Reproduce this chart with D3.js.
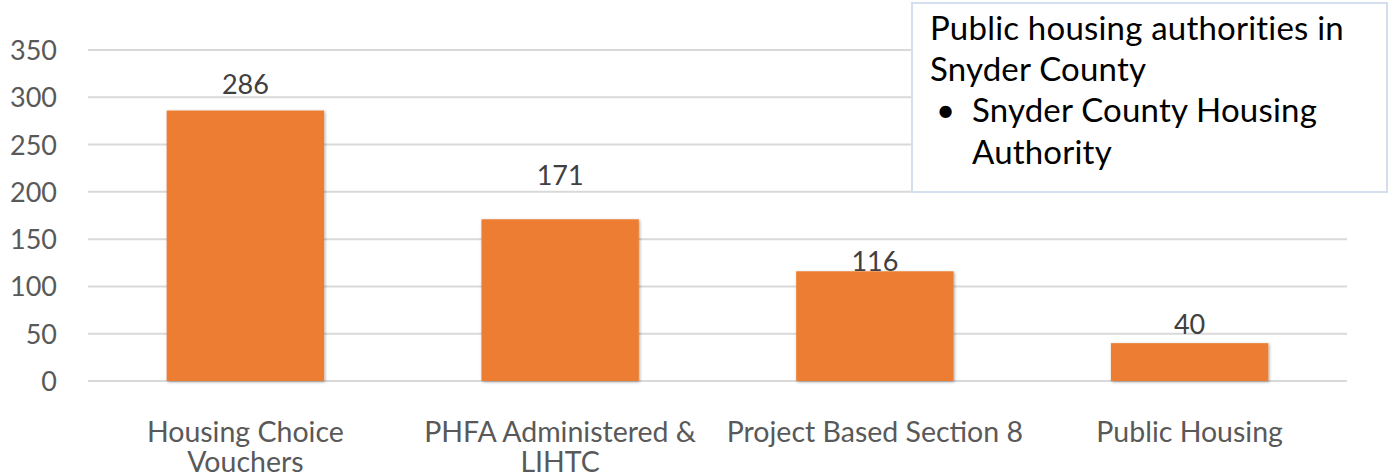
<!DOCTYPE html>
<html>
<head>
<meta charset="utf-8">
<script src="https://cdn.jsdelivr.net/npm/d3@7"></script>
<style>
    body { margin: 0; background: #fff; }
    svg { display: block; }
</style>
</head>
<body>
<svg id="chart" width="1392" height="476"></svg>
<script>
var categories = [
    ["Housing Choice", "Vouchers"],
    ["PHFA Administered &", "LIHTC"],
    ["Project Based Section 8"],
    ["Public Housing"]
];
var values = [286, 171, 116, 40];
var yTicks = [0, 50, 100, 150, 200, 250, 300, 350];
var noteTitle = ["Public housing authorities in", "Snyder County"];
var noteItems = [["Snyder County Housing", "Authority"]];

// label gap above each bar (px), as placed in the original
var labelGap = [17, 34, 0, 9];

var svg = d3.select("svg#chart"),
    font = "Lato, 'Open Sans', sans-serif",
    margin = { left: 88, right: 1347, top: 50, bottom: 381 },
    g = svg.append("g");

var x_scale = d3.scaleBand()
    .domain(d3.range(values.length))
    .range([margin.left, margin.right])
    .paddingInner(0.5)
    .paddingOuter(0.25);

var y_scale = d3.scaleLinear()
    .domain([0, 350])
    .range([margin.bottom, margin.top]);

var defs = svg.append("defs");
defs.append("filter")
    .attr("id", "shadow")
    .attr("x", "-10%").attr("y", "-10%")
    .attr("width", "120%").attr("height", "120%")
    .append("feDropShadow")
    .attr("dx", 1).attr("dy", 1)
    .attr("stdDeviation", 1.5)
    .attr("flood-color", "#000")
    .attr("flood-opacity", 0.35);

// gridlines
g.append("g")
    .selectAll("line")
    .data(yTicks)
    .enter()
    .append("line")
    .attr("x1", margin.left)
    .attr("x2", margin.right)
    .attr("y1", d => y_scale(d))
    .attr("y2", d => y_scale(d))
    .style("stroke", "#d9d9d9")
    .style("stroke-width", 2);

// y axis labels
var y_axis = d3.axisLeft(y_scale)
    .tickValues(yTicks)
    .tickSize(0)
    .tickPadding(0);

g.append("g")
    .attr("transform", "translate(57, 0)")
    .call(y_axis)
    .call(a => a.select(".domain").remove())
    .selectAll("text")
    .attr("dy", "0.35em")
    .style("font-family", font)
    .style("font-size", "27px")
    .style("fill", "#595959");

// bars
g.append("g")
    .selectAll("rect")
    .data(values)
    .enter()
    .append("rect")
    .attr("x", (d, i) => x_scale(i))
    .attr("width", x_scale.bandwidth())
    .attr("y", d => y_scale(d))
    .attr("height", d => y_scale(0) - y_scale(d))
    .attr("filter", "url(#shadow)")
    .style("fill", "#ed7d31");

// data labels
g.append("g")
    .selectAll("text")
    .data(values)
    .enter()
    .append("text")
    .attr("x", (d, i) => x_scale(i) + x_scale.bandwidth() / 2)
    .attr("y", (d, i) => y_scale(d) - labelGap[i])
    .style("text-anchor", "middle")
    .style("font-family", font)
    .style("font-size", "27px")
    .style("fill", "#404040")
    .text(d => d);

// category labels
var cat = g.append("g")
    .selectAll("text")
    .data(categories)
    .enter()
    .append("text")
    .attr("x", (d, i) => x_scale(i) + x_scale.bandwidth() / 2)
    .attr("y", 442)
    .style("text-anchor", "middle")
    .style("font-family", font)
    .style("font-size", "28.5px")
    .style("fill", "#595959");

cat.selectAll("tspan")
    .data(d => d)
    .enter()
    .append("tspan")
    .attr("x", function () { return d3.select(this.parentNode).attr("x"); })
    .attr("dy", (d, i) => i === 0 ? 0 : 30)
    .text(d => d);

// note box
var note = g.append("g");

note.append("rect")
    .attr("x", 912)
    .attr("y", 3)
    .attr("width", 475)
    .attr("height", 189)
    .style("fill", "#fff")
    .style("stroke", "#d5deec")
    .style("stroke-width", 2);

var lineH = 41.2, lineY = 40;

noteTitle.forEach(function (t, i) {
    note.append("text")
        .attr("x", 930)
        .attr("y", lineY + i * lineH)
        .style("font-family", font)
        .style("font-size", "33px")
        .style("letter-spacing", "0.2px")
        .style("fill", "#000")
        .text(t);
});

noteItems.forEach(function (item, j) {
    var row = noteTitle.length + j * item.length;
    note.append("text")
        .attr("x", 936)
        .attr("y", lineY + row * lineH)
        .style("font-family", font)
        .style("font-size", "33px")
        .style("fill", "#000")
        .text("\u2022");
    item.forEach(function (t, k) {
        note.append("text")
            .attr("x", 972)
            .attr("y", lineY + (row + k) * lineH)
            .style("font-family", font)
            .style("font-size", "33px")
            .style("letter-spacing", "0.2px")
            .style("fill", "#000")
            .text(t);
    });
});
</script>
</body>
</html>
